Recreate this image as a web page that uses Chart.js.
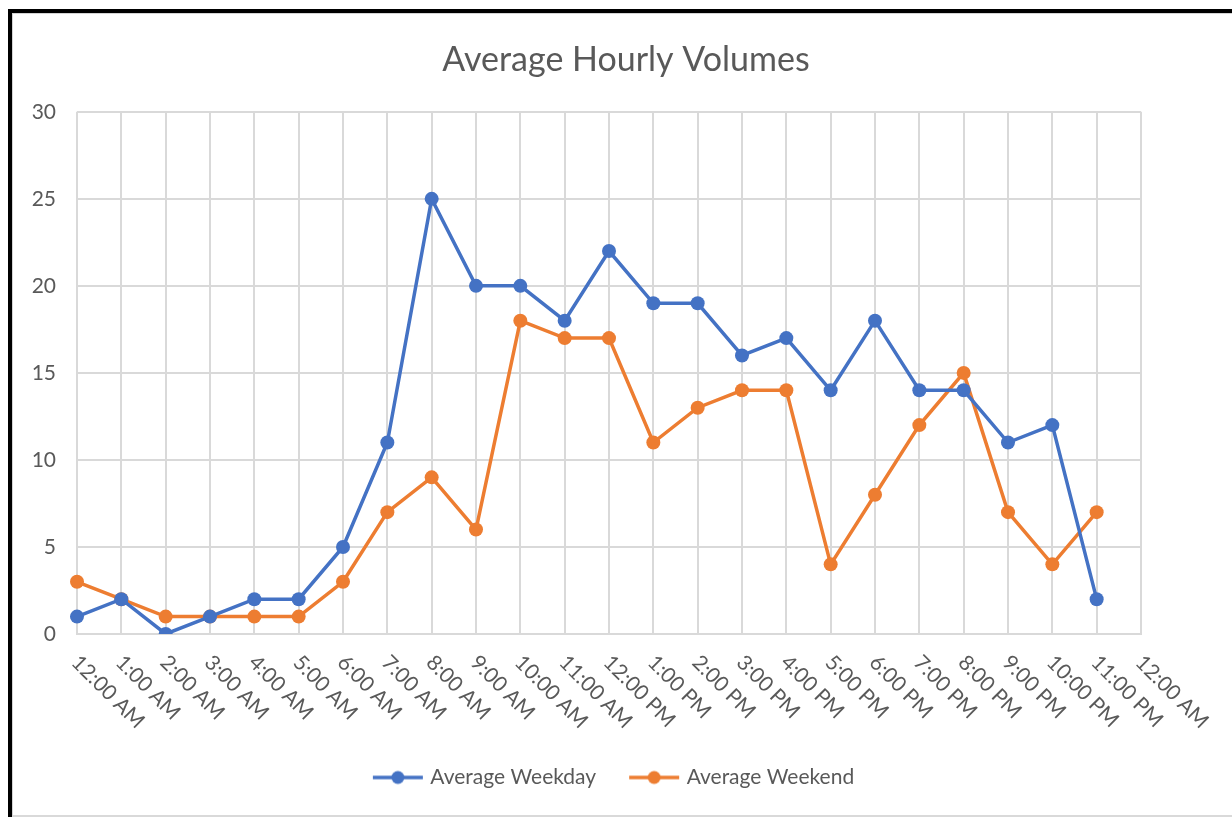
<!DOCTYPE html>
<html>
<head>
<meta charset="utf-8">
<script src="https://cdn.jsdelivr.net/npm/chart.js@4.4.1/dist/chart.umd.min.js"></script>
<style>
  html, body { margin: 0; padding: 0; background: #fff; overflow: hidden; }
  #wrap { position: relative; width: 1232px; height: 817px; }
  #chart { position: absolute; left: 0; top: 0; }
  /* picture frame: thick black top/left, thin grey inner edge */
  #frame { position: absolute; left: 8px; top: 9px; width: 1300px; height: 804px;
           border-top: 4px solid #000; border-left: 4px solid #000; pointer-events: none; }
  #frame > div { position: absolute; left: 0; top: 0; right: 0; bottom: 0;
           border-top: 1px solid #d4d4d4; border-left: 1px solid #d4d4d4; border-bottom: 2px solid #d9d9d9; }
</style>
</head>
<body>
<div id="wrap">
  <canvas id="chart" width="1232" height="817"></canvas>
  <div id="frame"><div></div></div>
</div>
<script>
const hours = [
  '12:00 AM', '1:00 AM', '2:00 AM', '3:00 AM', '4:00 AM', '5:00 AM', '6:00 AM', '7:00 AM',
  '8:00 AM', '9:00 AM', '10:00 AM', '11:00 AM', '12:00 PM', '1:00 PM', '2:00 PM', '3:00 PM',
  '4:00 PM', '5:00 PM', '6:00 PM', '7:00 PM', '8:00 PM', '9:00 PM', '10:00 PM', '11:00 PM',
  '12:00 AM'
];
const weekday = [1, 2, 0, 1, 2, 2, 5, 11, 25, 20, 20, 18, 22, 19, 19, 16, 17, 14, 18, 14, 14, 11, 12, 2, null];
const weekend = [3, 2, 1, 1, 1, 1, 3, 7, 9, 6, 18, 17, 17, 11, 13, 14, 14, 4, 8, 12, 15, 7, 4, 7, null];
const yTicks = [0, 5, 10, 15, 20, 25, 30];

const BLUE = '#4472C4';
const ORANGE = '#ED7D31';
const TEXT = '#595959';
const GRID = '#D9D9D9';
const FONT = 'Lato, "Open Sans", sans-serif';

// legend marker: short line with a dot in the middle
function legendMarker(color) {
  const c = document.createElement('canvas');
  c.width = 52; c.height = 16;
  const g = c.getContext('2d');
  g.strokeStyle = color; g.lineWidth = 3.5;
  g.beginPath(); g.moveTo(1, 8); g.lineTo(51, 8); g.stroke();
  g.fillStyle = color;
  g.beginPath(); g.arc(26, 8, 6.5, 0, Math.PI * 2); g.fill();
  return c;
}

// x labels slope down to the right from each tick, like the original
const slantedLabels = {
  id: 'slantedLabels',
  afterDraw(chart) {
    const x = chart.scales.x;
    const ctx = chart.ctx;
    ctx.save();
    ctx.font = '21px ' + FONT;
    ctx.fillStyle = TEXT;
    ctx.textAlign = 'left';
    ctx.textBaseline = 'middle';
    hours.forEach((h, i) => {
      const px = x.getPixelForTick(i);
      ctx.save();
      ctx.translate(px - 2, x.top + 25);
      ctx.rotate(Math.PI / 4);
      ctx.fillText(h, 0, 0);
      ctx.restore();
    });
    ctx.restore();
  }
};

// the legend sits a little left of the title in the original
const nudgeLegend = {
  id: 'nudgeLegend',
  afterLayout(chart) {
    chart.legend.left -= 11;
    chart.legend.right -= 11;
  }
};

new Chart(document.getElementById('chart'), {
  type: 'line',
  data: {
    labels: hours,
    datasets: [
      { label: 'Average Weekday', data: weekday, borderColor: BLUE, backgroundColor: BLUE,
        borderWidth: 3.5, pointRadius: 7, pointBorderWidth: 0, tension: 0 },
      { label: 'Average Weekend', data: weekend, borderColor: ORANGE, backgroundColor: ORANGE,
        borderWidth: 3.5, pointRadius: 7, pointBorderWidth: 0, tension: 0 }
    ]
  },
  options: {
    responsive: false,
    animation: false,
    layout: { padding: { left: 20, right: 0, top: 0, bottom: 19 } },
    plugins: {
      title: {
        display: true, text: 'Average Hourly Volumes', color: TEXT,
        font: { family: FONT, size: 34, weight: 'normal' },
        padding: { top: 40, bottom: 31 }
      },
      legend: {
        position: 'bottom',
        labels: {
          color: TEXT, font: { family: FONT, size: 21 }, padding: 36,
          usePointStyle: true, pointStyleWidth: 44,
          generateLabels: chart => chart.data.datasets.map((ds, i) => ({
            text: ds.label, fillStyle: ds.borderColor, strokeStyle: ds.borderColor,
            pointStyle: legendMarker(ds.borderColor), datasetIndex: i, lineWidth: 0,
            fontColor: TEXT
          }))
        }
      },
      tooltip: { enabled: false }
    },
    scales: {
      x: {
        offset: false,
        grid: { color: GRID, lineWidth: 2, drawTicks: false },
        border: { color: GRID, width: 2 },
        ticks: { display: false },
        afterFit: s => { s.height = 97; }
      },
      y: {
        min: 0, max: 30,
        afterBuildTicks: s => { s.ticks = yTicks.map(v => ({ value: v })); },
        grid: { color: GRID, lineWidth: 2, drawTicks: false },
        border: { display: false },
        ticks: { color: TEXT, font: { family: FONT, size: 21 }, padding: 21 },
        afterFit: s => { s.width = 57; }
      },
      y2: {
        position: 'right', display: true,
        grid: { display: false }, border: { display: false }, ticks: { display: false },
        afterFit: s => { s.width = 91; }
      }
    }
  },
  plugins: [slantedLabels, nudgeLegend]
});
</script>
</body>
</html>
